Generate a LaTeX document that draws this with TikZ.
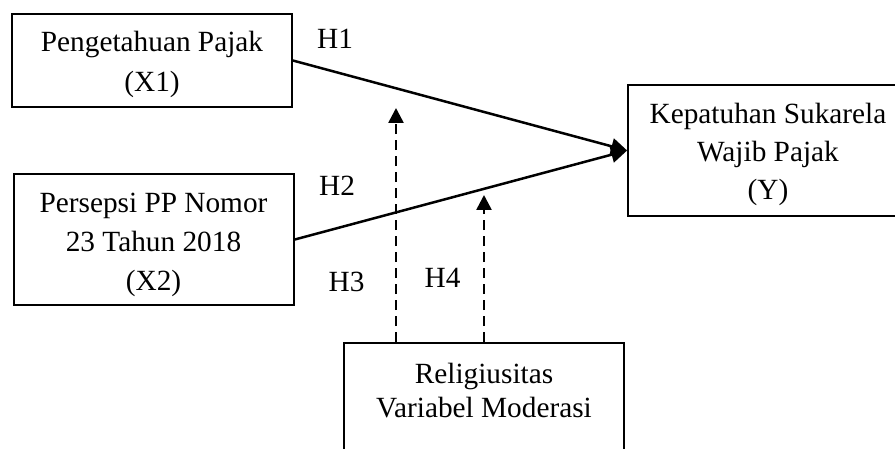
\documentclass[tikz,border=0pt]{standalone}
\usepackage{fontspec}
\setmainfont{Liberation Serif}
\usetikzlibrary{arrows.meta}
\begin{document}
\begin{tikzpicture}[x=1pt,y=-1pt,
  box/.style={draw,line width=1.7pt,minimum width=280pt,inner sep=0pt,rectangle},
  lbl/.style={anchor=base,inner sep=0pt,font=\fontsize{29.3pt}{40pt}\selectfont},
  relpath/.style={line width=2.5pt,-{Triangle[length=16pt,width=16pt]}},
  modpath/.style={line width=2.6pt,dash pattern=on 10pt off 6pt,-{Triangle[length=15pt,width=15pt]}}]
\useasboundingbox (0,0) rectangle (895,449);
\clip (0,0) rectangle (895,449);
% boxes
\node[box,minimum height=93pt] (x1) at (152,60.5) {};
\node[box,minimum height=131pt] (x2) at (154,239.5) {};
\node[box,minimum height=131pt] (y) at (768,150.5) {};
\node[box,minimum height=131pt] (mod) at (484,408.5) {};
% box texts
\node[lbl] (t1a) at (152,52) {Pengetahuan Pajak};
\node[lbl] (t1b) at (152,92) {(X1)};
\node[lbl] (t2a) at (153.5,212.7) {Persepsi PP Nomor};
\node[lbl] (t2b) at (153.5,251.7) {23 Tahun 2018};
\node[lbl] (t2c) at (153.5,290.7) {(X2)};
\node[lbl] (tya) at (768,123.3) {Kepatuhan Sukarela};
\node[lbl] (tyb) at (768,161.7) {Wajib Pajak};
\node[lbl] (tyc) at (768,200) {(Y)};
\node[lbl] (tma) at (484,383.3) {Religiusitas};
\node[lbl] (tmb) at (484,417.3) {Variabel Moderasi};
% hypothesis labels
\node[lbl] (h1) at (335,48.3) {H1};
\node[lbl] (h2) at (337,196) {H2};
\node[lbl] (h3) at (346.5,292) {H3};
\node[lbl] (h4) at (442.5,288) {H4};
% connectors
\draw[relpath] (x1.east) -- (y.west);
\draw[relpath] (x2.east) -- (y.west);
\coordinate (m3) at (396,108);
\coordinate (m4) at (484,195);
\draw[modpath] (mod.north -| m3) -- (m3);
\draw[modpath] (mod.north -| m4) -- (m4);
\end{tikzpicture}
\end{document}
